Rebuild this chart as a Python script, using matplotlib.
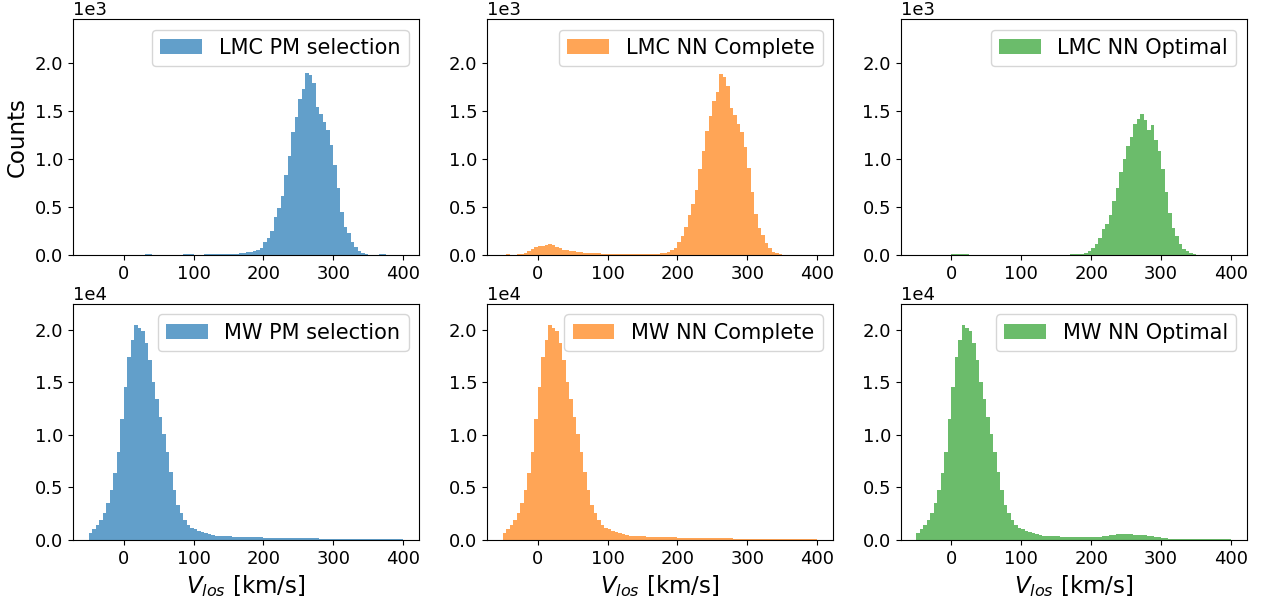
import numpy as np
import matplotlib
matplotlib.use("Agg")
import matplotlib.pyplot as plt
from matplotlib.ticker import ScalarFormatter

# Line-of-sight velocity bins (km/s)
bin_edges = np.arange(-50, 405, 5)
bin_centers = bin_edges[:-1] + 2.5

# Counts per 5 km/s bin, from -50 to 400 km/s
lmc_pm = [0, 0, 0, 0, 0, 0, 0, 0, 0, 0,
          0, 0, 3, 0, 0, 3, 12, 10, 3, 3,
          4, 3, 3, 4, 5, 8, 8, 10, 9, 10,
          8, 8, 8, 9, 10, 10, 10, 12, 12, 13,
          14, 16, 18, 22, 28, 30, 35, 40, 52, 74,
          143, 184, 257, 402, 488, 615, 832, 1029, 1281, 1436,
          1625, 1729, 1895, 1867, 1787, 1539, 1470, 1384, 1298, 1143,
          936, 695, 453, 298, 230, 143, 91, 40, 29, 15,
          8, 5, 3, 12, 10, 3, 0, 0, 0, 0]

lmc_nn_complete = [0, 10, 0, 8, 10, 12, 20, 40, 70, 90,
                   95, 100, 110, 115, 105, 90, 75, 60, 50, 45,
                   40, 38, 30, 28, 25, 22, 20, 20, 18, 17,
                   15, 15, 12, 12, 14, 16, 14, 15, 18, 15,
                   14, 14, 15, 16, 18, 22, 25, 35, 60, 75,
                   140, 200, 290, 420, 530, 680, 900, 1080, 1290, 1450,
                   1600, 1700, 1880, 1850, 1760, 1530, 1460, 1360, 1280, 1120,
                   910, 660, 430, 280, 210, 130, 80, 38, 26, 14,
                   8, 5, 3, 8, 6, 2, 0, 0, 0, 0]

lmc_nn_optimal = [0, 0, 0, 0, 0, 0, 0, 3, 8, 8,
                  10, 12, 10, 15, 12, 8, 6, 6, 6, 5,
                  5, 4, 0, 0, 0, 0, 0, 0, 0, 0,
                  0, 0, 0, 0, 0, 0, 0, 0, 0, 0,
                  0, 0, 0, 3, 10, 12, 14, 18, 20, 40,
                  80, 120, 180, 270, 330, 420, 560, 700, 860, 1000,
                  1130, 1230, 1360, 1420, 1470, 1400, 1300, 1350, 1200, 1080,
                  900, 660, 440, 280, 200, 120, 70, 40, 20, 12,
                  6, 4, 2, 0, 0, 0, 0, 0, 0, 0]

mw_pm = [693, 1011, 1422, 1896, 2591, 3539, 4739, 6382, 8373, 11532,
         14534, 17377, 19020, 20442, 20158, 19905, 18705, 17124, 15008, 13428,
         11690, 10111, 8373, 6477, 4739, 3318, 2591, 1896, 1422, 1169,
         1011, 885, 790, 693, 569, 474, 420, 400, 380, 360,
         340, 320, 310, 300, 290, 280, 270, 260, 250, 240,
         235, 230, 225, 220, 215, 210, 205, 200, 195, 190,
         185, 180, 170, 160, 150, 145, 140, 135, 130, 125,
         120, 118, 115, 112, 110, 108, 105, 102, 100, 98,
         96, 94, 92, 90, 88, 86, 84, 82, 80, 78]

mw_nn_complete = [693, 1011, 1422, 1896, 2591, 3539, 4739, 6382, 8373, 11532,
                  14534, 17377, 19020, 20442, 20158, 19905, 18705, 17124, 15008, 13428,
                  11690, 10111, 8373, 6477, 4739, 3318, 2591, 1896, 1422, 1169,
                  1011, 885, 790, 693, 569, 474, 420, 400, 380, 360,
                  340, 320, 310, 300, 290, 280, 270, 260, 250, 240,
                  235, 230, 225, 220, 220, 220, 215, 210, 205, 200,
                  195, 190, 180, 170, 160, 150, 140, 135, 130, 125,
                  120, 118, 115, 112, 110, 108, 105, 102, 100, 98,
                  96, 94, 92, 90, 88, 86, 84, 82, 80, 78]

mw_nn_optimal = [693, 1011, 1422, 1896, 2591, 3539, 4739, 6382, 8373, 11532,
                 14534, 17377, 19020, 20442, 20158, 19905, 18705, 17124, 15008, 13428,
                 11690, 10111, 8373, 6477, 4739, 3318, 2591, 1896, 1422, 1169,
                 1011, 885, 790, 693, 569, 474, 420, 400, 380, 360,
                 340, 320, 310, 300, 290, 280, 270, 260, 250, 240,
                 250, 270, 300, 340, 390, 450, 520, 580, 600, 600,
                 590, 560, 520, 490, 460, 430, 390, 340, 290, 240,
                 190, 150, 125, 115, 110, 108, 105, 102, 100, 98,
                 96, 94, 92, 90, 88, 86, 84, 82, 80, 78]

panel_labels = ["LMC PM selection", "LMC NN Complete", "LMC NN Optimal",
                "MW PM selection", "MW NN Complete", "MW NN Optimal"]
panel_counts = [lmc_pm, lmc_nn_complete, lmc_nn_optimal,
                mw_pm, mw_nn_complete, mw_nn_optimal]
panel_colors = ["tab:blue", "tab:orange", "tab:green"] * 2

W, H = 1268, 599
fig = plt.figure(figsize=(W / 100, H / 100), dpi=100)

col_left = [73, 487, 900.7]
col_width = 346
row_top = [19.3, 304]
row_height = 236

tick_fs = 13
for k in range(6):
    r, c = divmod(k, 3)
    ax = fig.add_axes([col_left[c] / W, 1 - (row_top[r] + row_height) / H,
                       col_width / W, row_height / H])
    ax.hist(bin_centers, bins=bin_edges, weights=panel_counts[k],
            color=panel_colors[k], alpha=0.7, label=panel_labels[k])
    ax.set_xlim(-72.5, 422.5)
    ax.set_ylim(0, 2450 if r == 0 else 22450)
    ax.set_xticks([0, 100, 200, 300, 400])
    fmt = ScalarFormatter(useMathText=False)
    fmt.set_scientific(True)
    fmt.set_powerlimits((0, 0))
    ax.yaxis.set_major_formatter(fmt)
    ax.yaxis.get_offset_text().set_fontsize(tick_fs)
    ax.tick_params(labelsize=tick_fs)
    ax.legend(loc="upper right", fontsize=15)
    if r == 1:
        ax.set_xlabel(r"$V_{los}$ [km/s]", fontsize=16.5)
    if k == 0:
        ax.set_ylabel("Counts", fontsize=16.5)

fig.savefig("out.png", dpi=100)
